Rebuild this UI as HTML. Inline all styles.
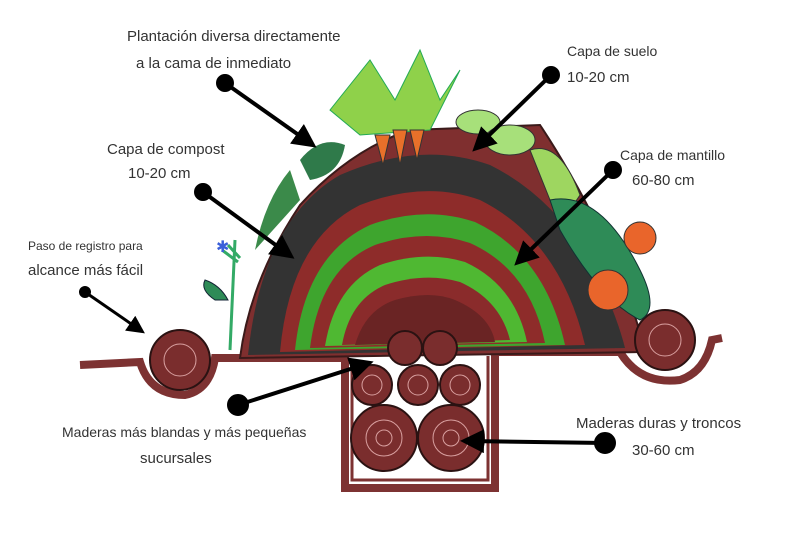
<!DOCTYPE html>
<html><head><meta charset="utf-8"><style>
body{margin:0;background:#fff;width:800px;height:538px;overflow:hidden}
svg text{font-family:"Liberation Sans",sans-serif;fill:#333}
</style></head><body>
<svg width="800" height="538" viewBox="0 0 800 538" xmlns="http://www.w3.org/2000/svg">
<defs>
<marker id="ah" markerWidth="6" markerHeight="6" refX="4" refY="3" orient="auto" markerUnits="strokeWidth"><path d="M0,0 L6,3 L0,6 z" fill="#000"/></marker>
</defs>
<path d="M80,365 L140,362 Q150,395 185,395 Q210,390 215,358 L345,358 L345,488 L495,488 L495,352 L620,352 Q640,385 680,380 Q705,372 712,340 L722,338" fill="none" stroke="#7d3232" stroke-width="8"/>
<path d="M352,360 L352,480 L488,480 L488,356" fill="#fff" stroke="#7d3232" stroke-width="3"/>
<path d="M215,300 Q200,290 205,280 Q220,285 228,300 Z" fill="#2e8b57" stroke="#123" stroke-width="1"/>
<path d="M230,350 L235,240 M222,250 L238,262 M228,245 L240,258" stroke="#3a6" stroke-width="3"/>
<text x="216" y="252" font-size="16" style="fill:#3a5fd9">✱</text>
<path d="M255,250 Q265,200 290,170 L300,200 Z" fill="#3b8a4a"/>
<path d="M240,358 Q250,280 300,205 Q350,150 410,130 L540,125 Q570,170 600,230 Q630,290 645,352 Z" fill="#7f2f2f" stroke="#3a1a1a" stroke-width="2"/>
<path d="M248,355 Q262,220 340,175 Q420,140 490,165 Q560,200 600,280 Q618,320 625,348 Z" fill="#333"/>
<path d="M280,352 Q290,240 360,205 Q425,180 480,200 Q560,240 585,345 Z" fill="#8e2c2a"/>
<path d="M295,350 Q305,255 370,225 Q425,205 475,222 Q545,255 565,345 Z" fill="#3ea52e"/>
<path d="M310,348 Q320,268 375,245 Q425,228 470,243 Q530,270 545,343 Z" fill="#8e2c2a"/>
<path d="M325,346 Q335,285 380,265 Q425,250 465,262 Q515,285 527,342 Z" fill="#4fb832"/>
<path d="M342,345 Q350,300 385,285 Q425,272 460,282 Q500,300 510,340 Z" fill="#8a2b2b"/>
<path d="M355,345 Q365,310 395,300 Q430,290 455,300 Q490,315 495,342 Z" fill="#6a2424"/>
<g fill="#7a2d2d" stroke="#2a1212" stroke-width="2">
<circle cx="405" cy="348" r="17"/><circle cx="440" cy="348" r="17"/>
<circle cx="372" cy="385" r="20"/><circle cx="418" cy="385" r="20"/><circle cx="460" cy="385" r="20"/>
<circle cx="384" cy="438" r="33"/><circle cx="451" cy="438" r="33"/>
<circle cx="180" cy="360" r="30"/><circle cx="665" cy="340" r="30"/>
</g>
<g fill="none" stroke="#d9a0a0" stroke-width="1">
<circle cx="384" cy="438" r="18"/><circle cx="451" cy="438" r="18"/><circle cx="384" cy="438" r="8"/><circle cx="451" cy="438" r="8"/>
<circle cx="180" cy="360" r="16"/><circle cx="665" cy="340" r="16"/><circle cx="418" cy="385" r="10"/><circle cx="372" cy="385" r="10"/><circle cx="460" cy="385" r="10"/>
</g>
<path d="M330,110 L370,60 L395,100 L420,50 L440,100 L460,70 L430,130 L360,135 Z" fill="#8fd14a" stroke="#2a5" stroke-width="1"/>
<path d="M375,135 L383,165 L390,135 Z M393,130 L400,165 L407,130 Z M410,130 L417,160 L424,130 Z" fill="#e8702a" stroke="#333"/>
<ellipse cx="478" cy="122" rx="22" ry="12" fill="#a7e07a" stroke="#333"/>
<ellipse cx="510" cy="140" rx="25" ry="15" fill="#a7e07a" stroke="#333"/>
<path d="M300,160 Q320,135 345,145 Q340,175 310,180 Z" fill="#2f7a4a"/>
<path d="M530,150 Q560,140 580,195 L560,225 Z" fill="#9ed660" stroke="#333"/>
<path d="M550,200 Q600,190 640,270 Q660,310 640,320 Q600,300 560,230 Z" fill="#2e8b57" stroke="#133" stroke-width="1"/>
<circle cx="640" cy="238" r="16" fill="#e9652b" stroke="#333"/>
<circle cx="608" cy="290" r="20" fill="#e9652b" stroke="#333"/>
<g stroke="#000" stroke-width="4" fill="#000">
<circle cx="225" cy="83" r="7"/><line x1="225" y1="83" x2="310" y2="143" marker-end="url(#ah)"/>
<circle cx="551" cy="75" r="7"/><line x1="551" y1="75" x2="478" y2="146" marker-end="url(#ah)"/>
<circle cx="203" cy="192" r="7"/><line x1="203" y1="192" x2="288" y2="254" marker-end="url(#ah)"/>
<circle cx="613" cy="170" r="7"/><line x1="613" y1="170" x2="520" y2="260" marker-end="url(#ah)"/>
<circle cx="85" cy="292" r="4"/><line x1="85" y1="292" x2="140" y2="330" stroke-width="3" marker-end="url(#ah)"/>
<circle cx="238" cy="405" r="9"/><line x1="238" y1="405" x2="366" y2="364" marker-end="url(#ah)"/>
<circle cx="605" cy="443" r="9"/><line x1="605" y1="443" x2="468" y2="441" marker-end="url(#ah)"/>
</g>
<text x="127" y="41" font-size="15">Plantación diversa directamente</text>
<text x="136" y="68" font-size="15">a la cama de inmediato</text>
<text x="567" y="56" font-size="14">Capa de suelo</text>
<text x="567" y="82" font-size="15">10-20 cm</text>
<text x="107" y="154" font-size="15">Capa de compost</text>
<text x="128" y="178" font-size="15">10-20 cm</text>
<text x="620" y="160" font-size="14">Capa de mantillo</text>
<text x="632" y="185" font-size="15">60-80 cm</text>
<text x="28" y="250" font-size="12">Paso de registro para</text>
<text x="28" y="275" font-size="15">alcance más fácil</text>
<text x="62" y="437" font-size="14">Maderas más blandas y más pequeñas</text>
<text x="140" y="463" font-size="15">sucursales</text>
<text x="576" y="428" font-size="15">Maderas duras y troncos</text>
<text x="632" y="455" font-size="15">30-60 cm</text>
</svg>
</body></html>
